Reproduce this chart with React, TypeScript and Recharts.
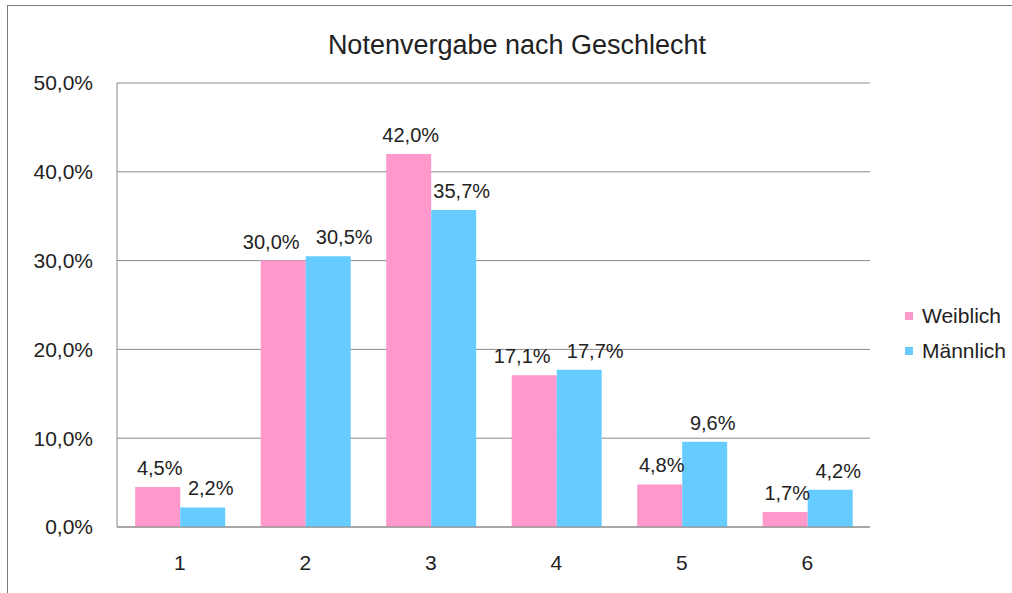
import React from 'react';
import { Bar, BarChart, CartesianGrid, LabelList, XAxis, YAxis } from 'recharts';

const grades = ['1', '2', '3', '4', '5', '6'];
const weiblich = [4.5, 30.0, 42.0, 17.1, 4.8, 1.7];
const maennlich = [2.2, 30.5, 35.7, 17.7, 9.6, 4.2];
const yTicks = [0, 10, 20, 30, 40, 50];
const seriesNames = ['Weiblich', 'Männlich'];
const colors = ['#FF99CC', '#66CCFF'];

const data = grades.map((g, i) => ({ grade: g, w: weiblich[i], m: maennlich[i] }));

const pct = (v: number) => v.toFixed(1).replace('.', ',') + '%';
const font = '"Liberation Sans", Arial, sans-serif';

// labels of neighbouring bars with similar height get pushed apart, like the original
function makeLabel(series: 'w' | 'm') {
  return (props: any) => {
    const { x, y, width, value, index } = props;
    const diff = Math.abs(weiblich[index] - maennlich[index]);
    let dx = 0;
    if (diff < 2) dx = series === 'w' ? -12 : 16;
    else if (diff < 8) dx = series === 'w' ? 2 : 8;
    return (
      <text
        x={Number(x) + Number(width) / 2 + dx}
        y={Number(y) - 12}
        textAnchor="middle"
        fill="#222"
        fontSize={20}
        fontFamily={font}
      >
        {pct(Number(value))}
      </text>
    );
  };
}

export default function App() {
  return (
    <div style={{ position: 'fixed', left: 0, top: 0, width: 1012, height: 593, background: '#fff', fontFamily: font, overflow: 'hidden' }}>
      <div style={{ position: 'absolute', left: 7, top: 5, width: 1020, height: 600, border: '1px solid #7a7a7a', boxSizing: 'border-box' }} />
      <div style={{ position: 'absolute', left: 0, width: 1034, top: 28, textAlign: 'center', fontSize: 27, color: '#222', lineHeight: '34px' }}>
        Notenvergabe nach Geschlecht
      </div>
      <div style={{ position: 'absolute', left: 0, top: 0 }}>
        <BarChart
          width={1012}
          height={593}
          data={data}
          margin={{ top: 83, left: 57, right: 142, bottom: 36 }}
          barCategoryGap="14.5%"
          barGap={0}
        >
          <CartesianGrid vertical={false} stroke="#8a8a8a" />
          <XAxis
            dataKey="grade"
            height={30}
            stroke="#8a8a8a"
            tickLine={false}
            tickSize={0}
            tickMargin={28}
            tick={{ fill: '#222', fontSize: 21, fontFamily: font }}
          />
          <YAxis
            width={60}
            domain={[0, 50]}
            ticks={yTicks}
            tickFormatter={pct}
            stroke="#8a8a8a"
            tickLine={false}
            tickSize={0}
            tickMargin={24}
            tick={{ fill: '#222', fontSize: 21, fontFamily: font }}
          />
          <Bar dataKey="w" name={seriesNames[0]} fill={colors[0]} isAnimationActive={false}>
            <LabelList dataKey="w" content={makeLabel('w')} />
          </Bar>
          <Bar dataKey="m" name={seriesNames[1]} fill={colors[1]} isAnimationActive={false}>
            <LabelList dataKey="m" content={makeLabel('m')} />
          </Bar>
        </BarChart>
      </div>
      <div style={{ position: 'absolute', left: 905, top: 298, fontSize: 21, color: '#222' }}>
        {seriesNames.map((n, i) => (
          <div key={n} style={{ display: 'flex', alignItems: 'center', height: 35 }}>
            <span style={{ display: 'inline-block', width: 8, height: 8, background: colors[i], marginRight: 9 }} />
            {n}
          </div>
        ))}
      </div>
    </div>
  );
}
